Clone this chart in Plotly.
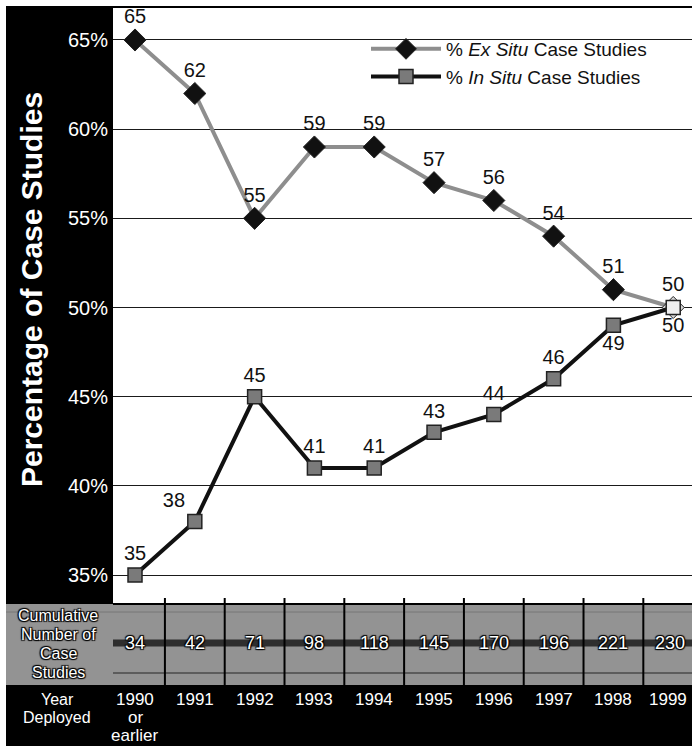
import plotly.graph_objects as go

# ---- data -------------------------------------------------------------
years = ["1990", "1991", "1992", "1993", "1994", "1995", "1996", "1997", "1998", "1999"]
year_labels = ["1990<br>or<br>earlier", "1991", "1992", "1993", "1994",
               "1995", "1996", "1997", "1998", "1999"]
ex_situ = [65, 62, 55, 59, 59, 57, 56, 54, 51, 50]
in_situ = [35, 38, 45, 41, 41, 43, 44, 46, 49, 50]
cumulative = [34, 42, 71, 98, 118, 145, 170, 196, 221, 230]
y_ticks = [35, 40, 45, 50, 55, 60, 65]
row_label_count = "Cumulative<br>Number of<br>Case<br>Studies"
row_label_year = "Year<br>Deployed"

# ---- layout helpers (pixel -> paper) ---------------------------------
W, H = 692, 746
FONT = "Liberation Sans, Arial, Helvetica, sans-serif"


def px(x):
    return x / W


def py(y):
    return 1 - y / H


PLOT_L, PLOT_T, PLOT_B = 113, 7, 603
TABLE_T, TABLE_M = 604, 685

in_pos = ["top center", "top left", "top center", "top center", "top center",
          "top center", "top center", "top center", "bottom center", "bottom center"]

# the two final points coincide; draw them lighter so the overlap reads as one mark
ex_colors = ["#111111"] * (len(years) - 1) + ["#d8d8d8"]
in_colors = ["#7a7a7a"] * (len(years) - 1) + ["#eeeeee"]

fig = go.Figure()

fig.add_trace(go.Scatter(
    x=years, y=ex_situ, name="% <i>Ex Situ</i> Case Studies",
    mode="lines+markers+text",
    line=dict(color="#8e8e8e", width=4),
    marker=dict(symbol="diamond", size=17, color=ex_colors,
                line=dict(color="#222222", width=1)),
    text=[str(v) for v in ex_situ], textposition="top center",
    textfont=dict(size=20, color="#111111", family=FONT),
    cliponaxis=False,
))

fig.add_trace(go.Scatter(
    x=years, y=in_situ, name="% <i>In Situ</i> Case Studies",
    mode="lines+markers+text",
    line=dict(color="#111111", width=4),
    marker=dict(symbol="square", size=14, color=in_colors,
                line=dict(color="#222222", width=1.5)),
    text=[str(v) for v in in_situ], textposition=in_pos,
    textfont=dict(size=20, color="#111111", family=FONT),
    cliponaxis=False,
))

shapes = [
    # dark panel behind the y axis labels
    dict(type="rect", xref="paper", yref="paper", x0=px(6), x1=px(PLOT_L),
         y0=py(TABLE_T), y1=py(6), fillcolor="#000000", line_width=0, layer="below"),
    # top border
    dict(type="line", xref="paper", yref="paper", x0=px(6), x1=1,
         y0=py(7), y1=py(7), line=dict(color="#000000", width=2)),
    # cumulative-count row
    dict(type="rect", xref="paper", yref="paper", x0=px(6), x1=1,
         y0=py(TABLE_M), y1=py(TABLE_T), fillcolor="#939393", line_width=0, layer="below"),
    dict(type="line", xref="paper", yref="paper", x0=px(PLOT_L), x1=1,
         y0=py(643), y1=py(643), line=dict(color="#2e2e2e", width=7), layer="below"),
    dict(type="line", xref="paper", yref="paper", x0=px(PLOT_L), x1=1,
         y0=py(673), y1=py(673), line=dict(color="#4a4a4a", width=1.5), layer="below"),
    dict(type="line", xref="paper", yref="paper", x0=px(6), x1=1,
         y0=py(612), y1=py(612), line=dict(color="#777777", width=1), layer="below"),
    # year row
    dict(type="rect", xref="paper", yref="paper", x0=px(6), x1=1,
         y0=0, y1=py(TABLE_M), fillcolor="#000000", line_width=0, layer="below"),
    # line separating chart from table
    dict(type="line", xref="paper", yref="paper", x0=px(PLOT_L), x1=1,
         y0=py(TABLE_T), y1=py(TABLE_T), line=dict(color="#000000", width=2)),
]

# column separators with small tick marks above the table
for i in range(len(years) - 1):
    shapes.append(dict(type="line", xref="x", yref="paper", x0=i + 0.5, x1=i + 0.5,
                       y0=py(TABLE_M), y1=py(598),
                       line=dict(color="#000000", width=2)))

outline = ("1px 1px 1px #000, -1px -1px 1px #000, "
           "1px -1px 1px #000, -1px 1px 1px #000")

annotations = [
    dict(text="<b>Percentage of Case Studies</b>", xref="paper", yref="paper",
         x=px(31), y=py(290), xanchor="center", yanchor="middle",
         textangle=-90, showarrow=False,
         font=dict(size=30, color="#ffffff", family=FONT)),
]


def stacked(lines, x, xref, y_first, size, step, shadow=None, xshift=0):
    """Place each line of a <br>-separated label on its own, `step` px apart."""
    out = []
    for k, line in enumerate(lines.split("<br>")):
        f = dict(size=size, color="#ffffff", family=FONT)
        if shadow:
            f["shadow"] = shadow
        out.append(dict(text=line, xref=xref, yref="paper", x=x,
                        y=py(y_first + k * step), xanchor="center",
                        yanchor="middle", showarrow=False, font=f, xshift=xshift))
    return out


annotations += stacked(row_label_count, px(58), "paper", 615, 16, 19, outline)
annotations += stacked(row_label_year, px(57), "paper", 699, 16, 18)

for i, n in enumerate(cumulative):
    annotations.append(dict(text=str(n), xref="x", yref="paper", x=i, y=py(643),
                            xanchor="center", yanchor="middle", showarrow=False,
                            xshift=-3 if i == len(cumulative) - 1 else 0,
                            font=dict(size=18, color="#ffffff", family=FONT,
                                      shadow=outline)))

for i, lab in enumerate(year_labels):
    annotations += stacked(lab, i, "x", 699, 17, 18,
                           xshift=-5 if i == len(year_labels) - 1 else 0)

fig.update_layout(
    width=W, height=H,
    margin=dict(l=0, r=0, t=0, b=0),
    paper_bgcolor="#ffffff", plot_bgcolor="#ffffff",
    font=dict(family=FONT, color="#111111"),
    showlegend=True,
    legend=dict(x=px(366), y=py(30), xanchor="left", yanchor="top",
                bgcolor="rgba(0,0,0,0)", font=dict(size=19, color="#111111"),
                tracegroupgap=0, itemwidth=70),
    xaxis=dict(domain=[px(PLOT_L), 1], range=[-0.368, 9.314], type="category",
               showticklabels=False, showgrid=False, zeroline=False, showline=False,
               ticks=""),
    yaxis=dict(domain=[py(PLOT_B), py(PLOT_T)], range=[33.43, 66.85],
               tickvals=y_ticks, ticktext=[f"{v}%" for v in y_ticks], showgrid=True,
               gridcolor="#1a1a1a", gridwidth=1, zeroline=False, showline=False,
               tickfont=dict(size=20, color="#ffffff", family=FONT),
               ticks="", ticklabelstandoff=4, automargin=False),
    shapes=shapes,
    annotations=annotations,
)

fig.write_html("out.html")
